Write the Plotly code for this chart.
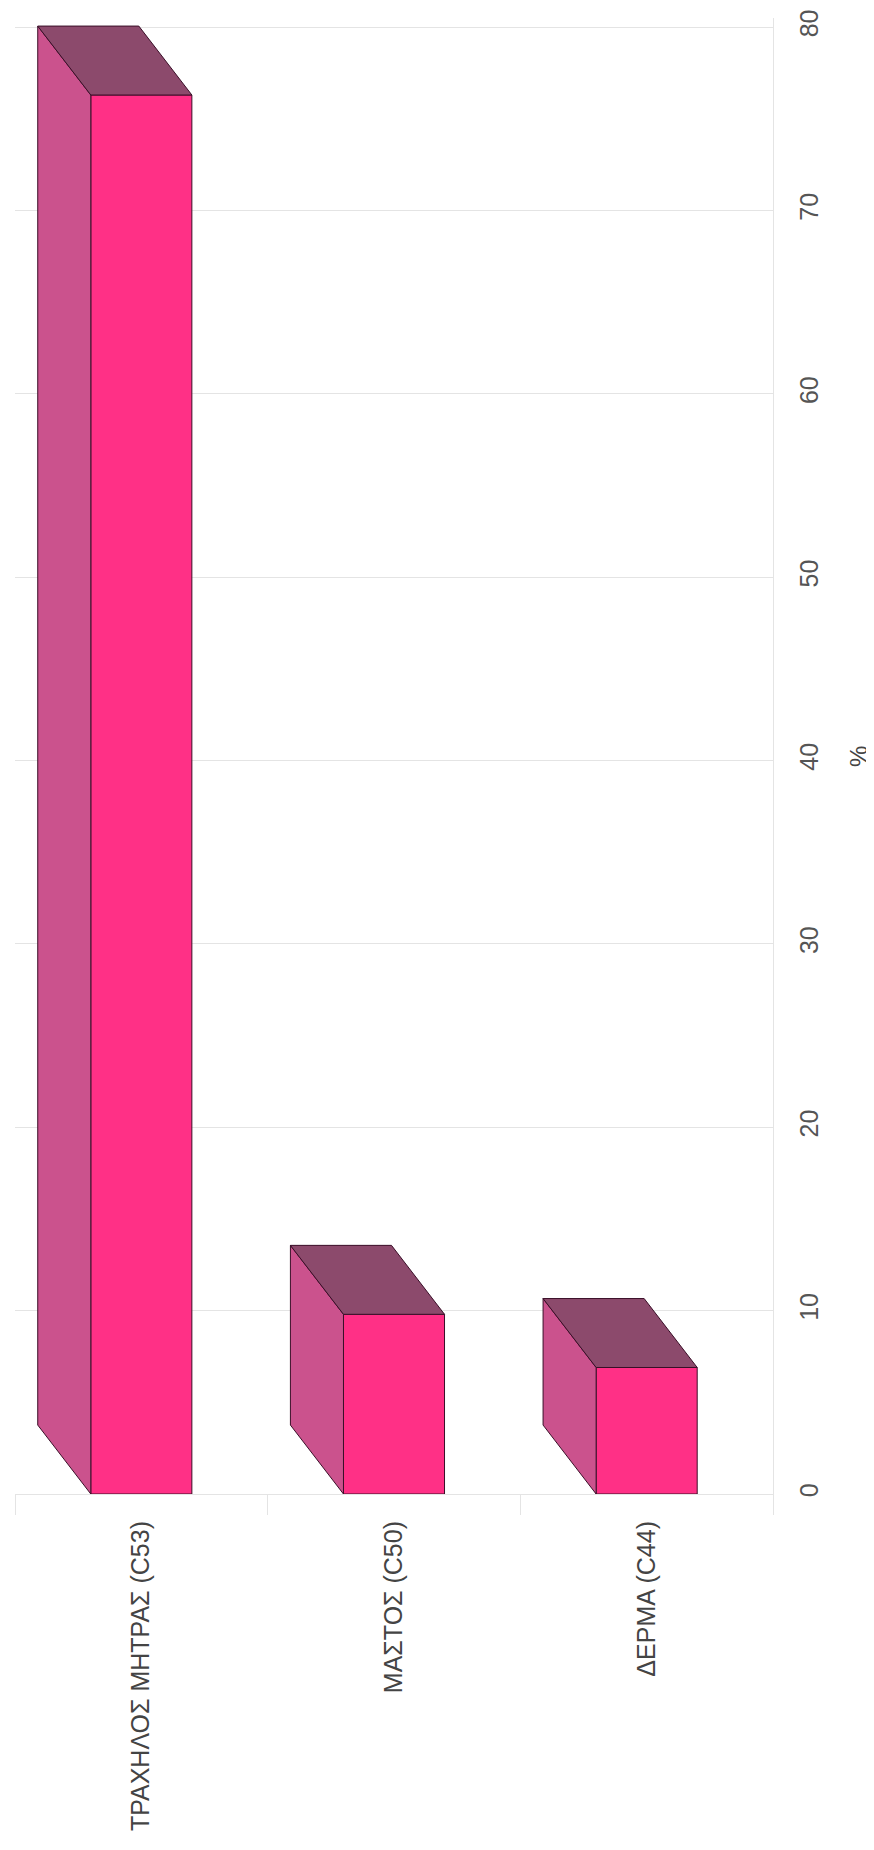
"""3D-look bar chart (rotated page): share of cancer sites, %."""

import plotly.graph_objects as go

# Data
categories = ["ΤΡΑΧΗΛΟΣ ΜΗΤΡΑΣ (C53)", "ΜΑΣΤΟΣ (C50)", "ΔΕΡΜΑ (C44)"]
values = [76.3, 9.8, 6.9]
value_ticks = [0, 10, 20, 30, 40, 50, 60, 70, 80]

# Look of the fake 3D boxes
BAR_WIDTH = 0.4     # in category units
DEPTH_X = 0.21      # shift of the back face, category units
DEPTH_Y = 3.76      # shift of the back face, value units
FRONT = "#FF3086"
SIDE = "#CB528D"
TOP = "#8C4A6C"
EDGE = "#3A0F28"
GRID = "#E4E4E4"
FONT = "Liberation Sans, Arial, sans-serif"

fig = go.Figure()

positions = list(range(len(categories)))

# Side and top faces, built from each value
for i, v in zip(positions, values):
    left = i - BAR_WIDTH / 2
    right = i + BAR_WIDTH / 2
    fig.add_trace(go.Scatter(
        x=[left, left, left - DEPTH_X, left - DEPTH_X, left],
        y=[0, v, v + DEPTH_Y, DEPTH_Y, 0],
        mode="lines", fill="toself", fillcolor=SIDE,
        line={"color": EDGE, "width": 1},
        hoverinfo="skip", showlegend=False,
    ))
    fig.add_trace(go.Scatter(
        x=[left, right, right - DEPTH_X, left - DEPTH_X, left],
        y=[v, v, v + DEPTH_Y, v + DEPTH_Y, v],
        mode="lines", fill="toself", fillcolor=TOP,
        line={"color": EDGE, "width": 1},
        hoverinfo="skip", showlegend=False,
    ))

# Front faces
fig.add_trace(go.Bar(
    x=positions,
    y=values,
    width=BAR_WIDTH,
    marker={"color": FRONT, "line": {"color": EDGE, "width": 1}},
    hovertemplate="%{y:.1f}%<extra></extra>",
    showlegend=False,
))

fig.add_annotation(
    text="%", textangle=-90,
    xref="paper", yref="paper", x=1.112, y=0.5,
    xanchor="center", yanchor="middle",
    showarrow=False, font={"family": FONT, "size": 24, "color": "#444444"},
)

# the page body adds an 8px margin, so the figure is sized to fit inside it
fig.update_layout(
    width=866,
    height=1834,
    margin={"l": 7, "r": 101, "t": 10, "b": 348, "autoexpand": False},
    paper_bgcolor="white",
    plot_bgcolor="white",
    font={"family": FONT, "size": 25, "color": "#444444"},
    xaxis={
        "range": [-0.5, 2.5],
        "tickvals": positions,
        "ticktext": categories,
        "tickangle": -90,
        "ticks": "",
        "ticklabelstandoff": 16,
        "showgrid": False,
        "zeroline": False,
        "showline": True,
        "linecolor": GRID,
        "automargin": False,
        "minor": {
            "tickvals": [-0.5, 0.5, 1.5, 2.5],
            "ticks": "outside",
            "ticklen": 20,
            "tickcolor": GRID,
            "showgrid": False,
        },
        "fixedrange": True,
    },
    yaxis={
        "range": [0, 80.5],
        "side": "right",
        "tickvals": value_ticks,
        "tickangle": -90,
        "ticks": "",
        "ticklabelstandoff": 14,
        "showgrid": True,
        "gridcolor": GRID,
        "zeroline": False,
        "showline": True,
        "linecolor": GRID,
        "automargin": False,
        "tickfont": {"color": "#555555", "size": 25},
        "fixedrange": True,
    },
)

fig.write_html("out.html")
